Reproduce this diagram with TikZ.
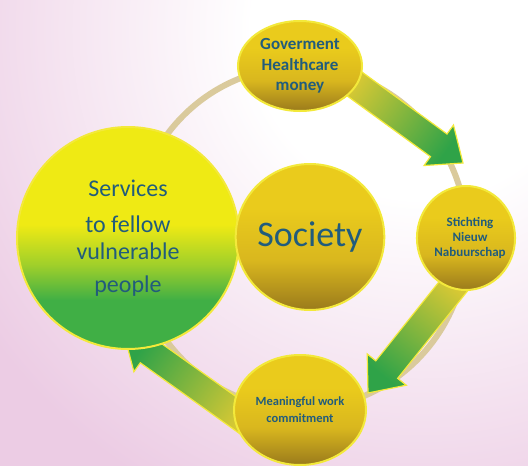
\documentclass[tikz,border=0pt]{standalone}
\usepackage{fontspec}
\setmainfont{Carlito}
\usetikzlibrary{shapes.geometric,calc}

\definecolor{bgpink}{HTML}{ECCCE4}
\definecolor{ringtan}{HTML}{DACA9C}
\definecolor{labelblue}{HTML}{215C7C}
\definecolor{rimyellow}{HTML}{F3E93A}
\definecolor{goldtop}{HTML}{EACB1C}
\definecolor{goldmid}{HTML}{D9B71E}
\definecolor{goldlow}{HTML}{9E7E1C}
\definecolor{leafgreen}{HTML}{40AF45}
\definecolor{lemon}{HTML}{EFEA14}
\definecolor{arrowtail}{HTML}{D6C834}
\definecolor{arrowtip}{HTML}{2FA348}

\pgfdeclareradialshading{paper}{\pgfpoint{0bp}{0bp}}{color(0bp)=(white); color(7bp)=(white); color(22bp)=(bgpink); color(50bp)=(bgpink)}
\pgfdeclareverticalshading{goldball}{100bp}{color(0bp)=(goldlow); color(26bp)=(goldlow); color(42bp)=(goldmid); color(60bp)=(goldtop); color(100bp)=(goldtop)}
\pgfdeclareverticalshading{servball}{100bp}{color(0bp)=(leafgreen); color(36bp)=(leafgreen); color(44bp)=(lemon!55!leafgreen); color(53bp)=(lemon); color(100bp)=(lemon)}

\pgfdeclarelayer{back}
\pgfsetlayers{back,main}

% block arrow from #1 to #2, shading turned by #3
\newcommand{\flowarrow}[3]{%
  \coordinate (head-base) at ($(#2)!30pt!(#1)$);
  \path[arrow body, shading angle=#3]
    ($(#1)!14pt!90:(#2)$) -- ($(head-base)!14pt!90:(#2)$)
    -- ($(head-base)!25pt!90:(#2)$) -- (#2)
    -- ($(head-base)!25pt!-90:(#2)$) -- ($(head-base)!14pt!-90:(#2)$)
    -- ($(#1)!14pt!-90:(#2)$) -- cycle;}

\begin{document}
\begin{tikzpicture}[x=1pt, y=-1pt,
    label text/.style={text=labelblue, align=center},
    gold ball/.style={ellipse, shading=goldball, draw=rimyellow, line width=2pt, inner sep=0pt, label text},
    arrow body/.style={draw=rimyellow, line width=1.2pt, top color=arrowtail, bottom color=arrowtip}]
  \useasboundingbox (0,0) rectangle (528,466);

  \node[circle, shading=servball, draw=rimyellow, line width=2pt, minimum size=222pt, label text,
        font=\fontsize{24}{27}\selectfont] (services) at (128,238)
    {Services\\[9pt]to fellow\\vulnerable\\[6pt]people};
  \node[gold ball, minimum width=146pt, minimum height=146pt, font=\fontsize{36}{40}\selectfont] (society) at (310,237) {Society};
  \node[gold ball, minimum width=124pt, minimum height=90pt, font=\bfseries\fontsize{17}{20.5}\selectfont] (gov) at (300,66)
    {Goverment\\Healthcare\\money};
  \node[gold ball, minimum width=98pt, minimum height=104pt, inner xsep=-5pt, font=\bfseries\fontsize{13}{15}\selectfont] (stichting) at (466,238)
    {\hspace*{8pt}Stichting\\\hspace*{8pt}Nieuw\\\hspace*{8pt}Nabuurschap};
  \node[gold ball, minimum width=132pt, minimum height=110pt, font=\bfseries\fontsize{12.5}{17}\selectfont] (work) at (300,410)
    {Meaningful work\\commitment};

  \begin{pgfonlayer}{back}
    \begin{scope}
      \clip (0,0) rectangle (528,466);
      \fill[bgpink] (0,0) rectangle (528,466);
      \shade[shading=paper] (420,30) circle (600pt);
    \end{scope}
    \draw[ringtan, line width=6pt] ($(gov)!0.5!(work)$) ellipse [x radius=167pt, y radius=171pt];

    \coordinate (gov-out) at ($(gov.center)!0.8!(gov.-15)$);
    \coordinate (stichting-in) at (463,163);
    \coordinate (stichting-out) at ($(stichting.center)!0.8!(stichting.-100)$);
    \coordinate (work-in) at (368,393);
    \coordinate (work-out) at ($(work.center)!0.8!(work.194)$);
    \coordinate (services-in) at (124,334);
    \flowarrow{gov-out}{stichting-in}{54}
    \flowarrow{stichting-out}{work-in}{-38.6}
    \flowarrow{work-out}{services-in}{234.8}
  \end{pgfonlayer}
\end{tikzpicture}
\end{document}
